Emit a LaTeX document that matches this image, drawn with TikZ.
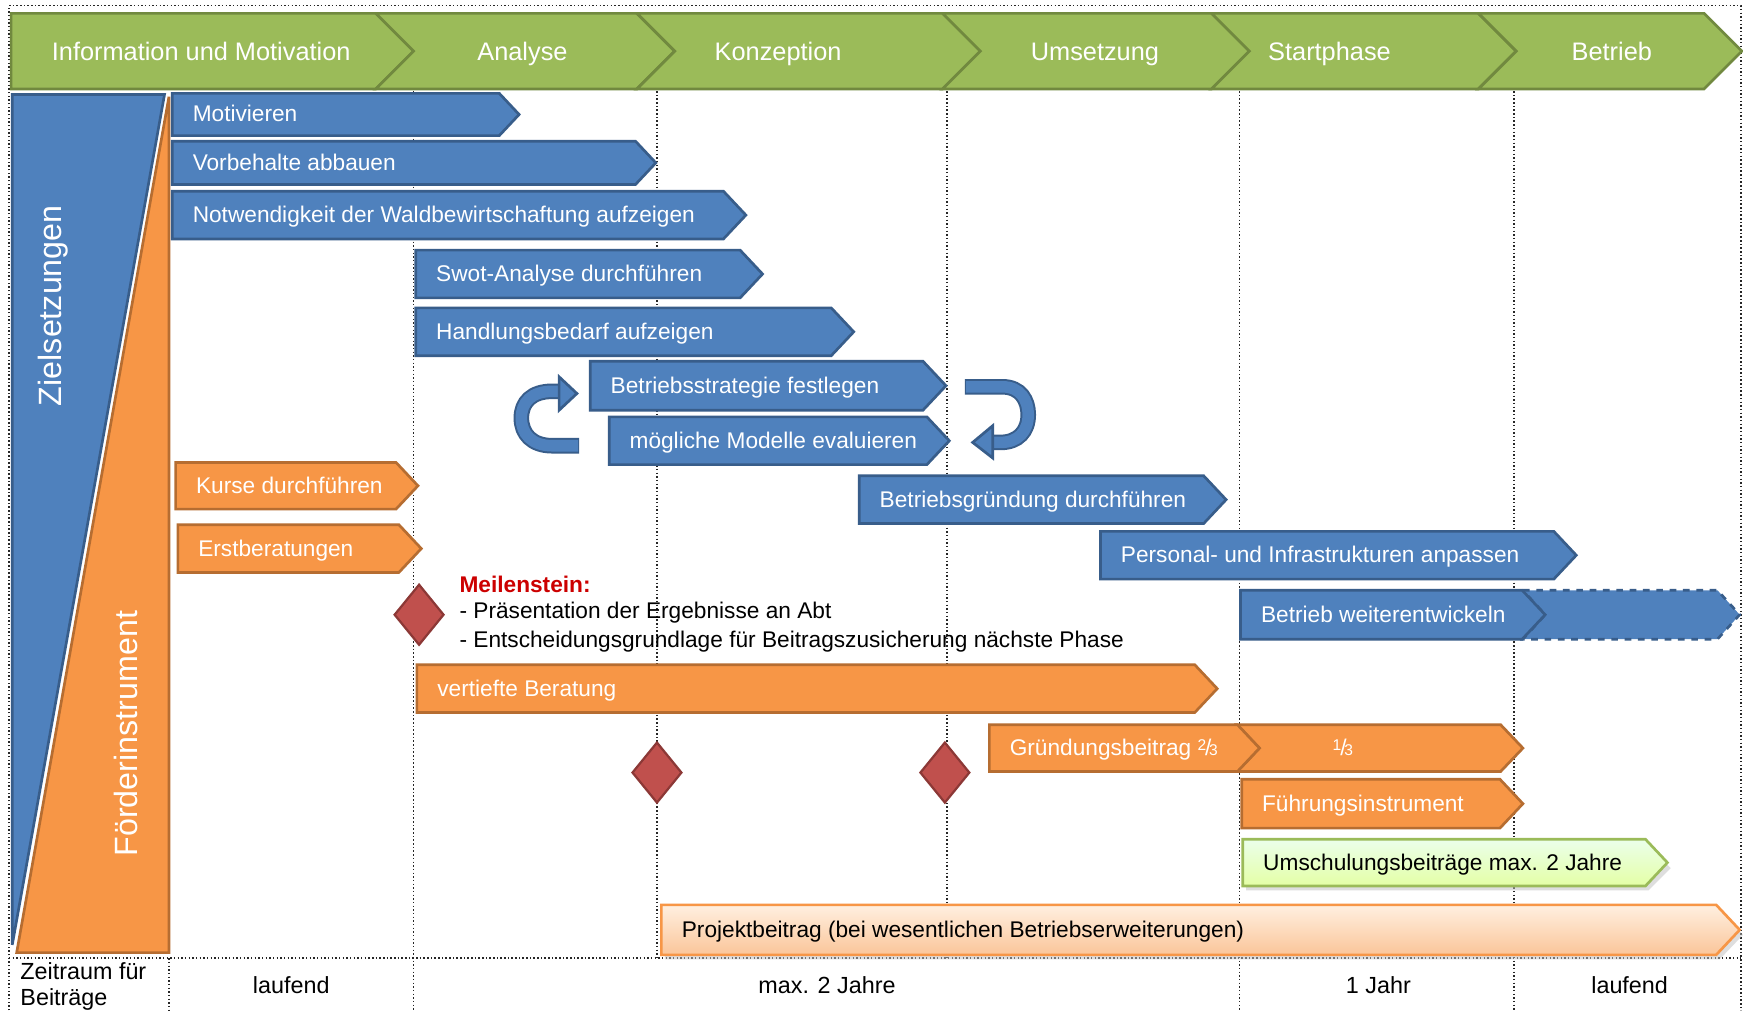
\documentclass[tikz,border=0pt]{standalone}
\usepackage{fontspec}
\setmainfont{Liberation Sans}
\definecolor{bfill}{HTML}{4F81BD}
\definecolor{bline}{HTML}{385D8A}
\definecolor{ofill}{HTML}{F79646}
\definecolor{oline}{HTML}{B66D31}
\definecolor{gfill}{HTML}{9BBB59}
\definecolor{gline}{HTML}{71893F}
\definecolor{rfill}{HTML}{C0504D}
\definecolor{rline}{HTML}{8C3836}
\definecolor{msred}{HTML}{CC0000}
\tikzset{
  dots/.style={densely dotted, line width=0.65pt, black!85},
  barrow/.style={fill=bfill, draw=bline, line width=1.2pt},
  oarrow/.style={fill=ofill, draw=oline, line width=1.2pt},
  lgarrow/.style={top color=green!8!white, bottom color=green!30!yellow!35!white, draw=gfill, line width=1.2pt},
  loarrow/.style={top color=orange!12!white, bottom color=ofill!55!white, draw=ofill, line width=1.2pt},
  wtext/.style={font=\fontsize{10.2}{12}\selectfont, text=white, inner sep=0pt, text height=7.3pt, text depth=0.6pt},
  ktext/.style={wtext, text=black},
  htext/.style={font=\fontsize{11.4}{13}\selectfont, text=white, inner sep=0pt, text height=8.2pt, text depth=0.6pt},
  sidetext/.style={font=\fontsize{14.5}{16}\selectfont, text=white, inner sep=0pt, rotate=90},
  bottext/.style={font=\fontsize{10.5}{12}\selectfont, text=black, inner sep=0pt, text height=7.5pt, text depth=0.6pt},
  diam/.style={fill=rfill, draw=rline, line width=1pt},
  hchev/.style={fill=gfill, draw=gline, line width=1.2pt},
}
\newcommand\myarrow[8]{%
  \pgfmathsetmacro\ym{(#3+#5)/2}%
  \pgfmathsetmacro\xb{#4-0.47*(#5-#3)}%
  \path[#6] (#2,#3) -- (\xb,#3) -- (#4,\ym) -- (\xb,#5) -- (#2,#5) -- cycle;%
  \node[#7, anchor=west] (#1) at (#2+18,\ym) {#8};%
}
\newcommand\diamd[2]{%
  \path[diam] (#1-22,#2) -- (#1,#2-27) -- (#1+22,#2) -- (#1,#2+27) -- cycle;%
}
\begin{document}
\begin{tikzpicture}[x=0.5pt,y=-0.5pt, line join=miter]
\useasboundingbox (0,0) rectangle (1568,909);
\fill[white] (0,0) rectangle (1568,909);
% dotted frame and grid
\draw[dots] (8,909) -- (8,5) -- (1566,5) -- (1566,909);
\draw[dots] (8,862) -- (1566,862);
\foreach \x in {372,1115,1362} \draw[dots] (\x,82) -- (\x,909);
\foreach \x in {591,852} \draw[dots] (\x,82) -- (\x,862);
\draw[dots] (152,862) -- (152,909);

% header
\path[hchev] (10,12) -- (338,12) -- (372,46) -- (338,80) -- (10,80) -- cycle;
\node[htext] (h1) at (181,47) {Information und Motivation};
\path[hchev] (338,12) -- (573,12) -- (607,46) -- (573,80) -- (338,80) -- (372,46) -- cycle;
\node[htext] (h2) at (470,47) {Analyse};
\path[hchev] (573,12) -- (848,12) -- (882,46) -- (848,80) -- (573,80) -- (607,46) -- cycle;
\node[htext] (h3) at (700,47) {Konzeption};
\path[hchev] (848,12) -- (1090,12) -- (1124,46) -- (1090,80) -- (848,80) -- (882,46) -- cycle;
\node[htext] (h4) at (985,47) {Umsetzung};
\path[hchev] (1090,12) -- (1330,12) -- (1364,46) -- (1330,80) -- (1090,80) -- (1124,46) -- cycle;
\node[htext] (h5) at (1196,47) {Startphase};
\path[hchev] (1330,12) -- (1533,12) -- (1567,46) -- (1533,80) -- (1330,80) -- (1364,46) -- cycle;
\node[htext] (h6) at (1450,47) {Betrieb};

% left panel
\path[fill=bfill, draw=bline, line width=1.2pt] (11,85) -- (148,85) -- (11,850) -- cycle;
\path[fill=ofill, draw=oline, line width=1.2pt] (152,87) -- (152,857) -- (15,857) -- cycle;
\node[sidetext] (ziel) at (48,275) {Zielsetzungen};
\node[sidetext] (foerd) at (113,660) {Förderinstrument};

% blue arrows
\myarrow{motiv}{155}{84}{467}{122}{barrow}{wtext}{Motivieren}
\myarrow{vorb}{155}{127}{590}{166}{barrow}{wtext}{Vorbehalte abbauen}
\myarrow{notw}{155}{172}{671}{215}{barrow}{wtext}{Notwendigkeit der Waldbewirtschaftung aufzeigen}
\myarrow{swot}{374}{225}{686}{268}{barrow}{wtext}{Swot-Analyse durchführen}
\myarrow{handl}{374}{277}{768}{320}{barrow}{wtext}{Handlungsbedarf aufzeigen}
\myarrow{strat}{531}{325}{851}{369}{barrow}{wtext}{Betriebsstrategie festlegen}
\myarrow{modell}{548}{375}{854}{418}{barrow}{wtext}{mögliche Modelle evaluieren}
\myarrow{gruend}{773}{428}{1103}{471}{barrow}{wtext}{Betriebsgründung durchführen}
\myarrow{person}{990}{478}{1418}{521}{barrow}{wtext}{Personal- und Infrastrukturen anpassen}
\path[barrow, dashed] (1370,531) -- (1545,531) -- (1565,553) -- (1545,575) -- (1370,575) -- (1390,553) -- cycle;
\myarrow{weiter}{1116}{531}{1390}{575}{barrow}{wtext}{Betrieb weiterentwickeln}

% loop arrows
\draw[bline, line width=7pt] (521,401) -- (497,401) .. controls (478,401) and (469,390) .. (469,376) .. controls (469,362) and (478,352) .. (497,352) -- (504,352);
\draw[bfill, line width=5.2pt] (520,401) -- (497,401) .. controls (478,401) and (469,390) .. (469,376) .. controls (469,362) and (478,352) .. (497,352) -- (505,352);
\path[barrow] (503,339) -- (519,354) -- (503,369) -- cycle;
\draw[bline, line width=7pt] (868,348) -- (902,348) .. controls (918,348) and (925,360) .. (925,373) .. controls (925,388) and (916,398) .. (900,398) -- (892,398);
\draw[bfill, line width=5.2pt] (869,348) -- (902,348) .. controls (918,348) and (925,360) .. (925,373) .. controls (925,388) and (916,398) .. (900,398) -- (891,398);
\path[barrow] (893,383) -- (875,398) -- (893,412) -- cycle;

% orange arrows
\myarrow{kurse}{158}{416}{376}{458}{oarrow}{wtext}{Kurse durchführen}
\myarrow{erst}{160}{472}{379}{515}{oarrow}{wtext}{Erstberatungen}
\myarrow{vert}{375}{598}{1095}{641}{oarrow}{wtext}{vertiefte Beratung}
\path[oarrow] (1113,652) -- (1350,652) -- (1370,673) -- (1350,694) -- (1113,694) -- (1133,673) -- cycle;
\node[wtext] (drittel) at (1208,673) {{\fontsize{7}{8}\selectfont\raisebox{0.35em}{1}}\kern-0.05em/\kern-0.1em{\fontsize{7}{8}\selectfont 3}};
\myarrow{gbeitrag}{890}{652}{1133}{694}{oarrow}{wtext}{Gründungsbeitrag {\fontsize{7}{8}\selectfont\raisebox{0.35em}{2}}\kern-0.05em/\kern-0.1em{\fontsize{7}{8}\selectfont 3}}
\myarrow{fuehr}{1117}{701}{1370}{745}{oarrow}{wtext}{Führungsinstrument}
\path[fill=black!25, opacity=0.5] (1121,760) -- (1483,760) -- (1503,781) -- (1483,801) -- (1121,801) -- cycle;
\myarrow{umsch}{1118}{755}{1500}{797}{lgarrow}{ktext}{Umschulungsbeiträge max. 2 Jahre}
\path[fill=black!25, opacity=0.5] (598,819) -- (1547,819) -- (1568,841) -- (1547,863) -- (598,863) -- cycle;
\myarrow{projekt}{595}{814}{1565}{859}{loarrow}{ktext}{Projektbeitrag (bei wesentlichen Betriebserweiterungen)}

% milestones
\diamd{377}{553}
\diamd{591}{695}
\diamd{850}{695}
\node[ktext, anchor=west, text=msred, font=\fontsize{10.2}{12}\selectfont\bfseries] (ms1) at (413,526) {Meilenstein:};
\node[ktext, anchor=west] (ms2) at (413,550) {- Präsentation der Ergebnisse an Abt};
\node[ktext, anchor=west] (ms3) at (413,576) {- Entscheidungsgrundlage für Beitragszusicherung nächste Phase};

% bottom row
\node[bottext, anchor=west] (zr1) at (18,874) {Zeitraum für};
\node[bottext, anchor=west] (zr2) at (18,898) {Beiträge};
\node[bottext] (b1) at (262,887) {laufend};
\node[bottext] (b2) at (744,887) {max. 2 Jahre};
\node[bottext] (b3) at (1240,887) {1 Jahr};
\node[bottext] (b4) at (1466,887) {laufend};
\end{tikzpicture}
\end{document}
